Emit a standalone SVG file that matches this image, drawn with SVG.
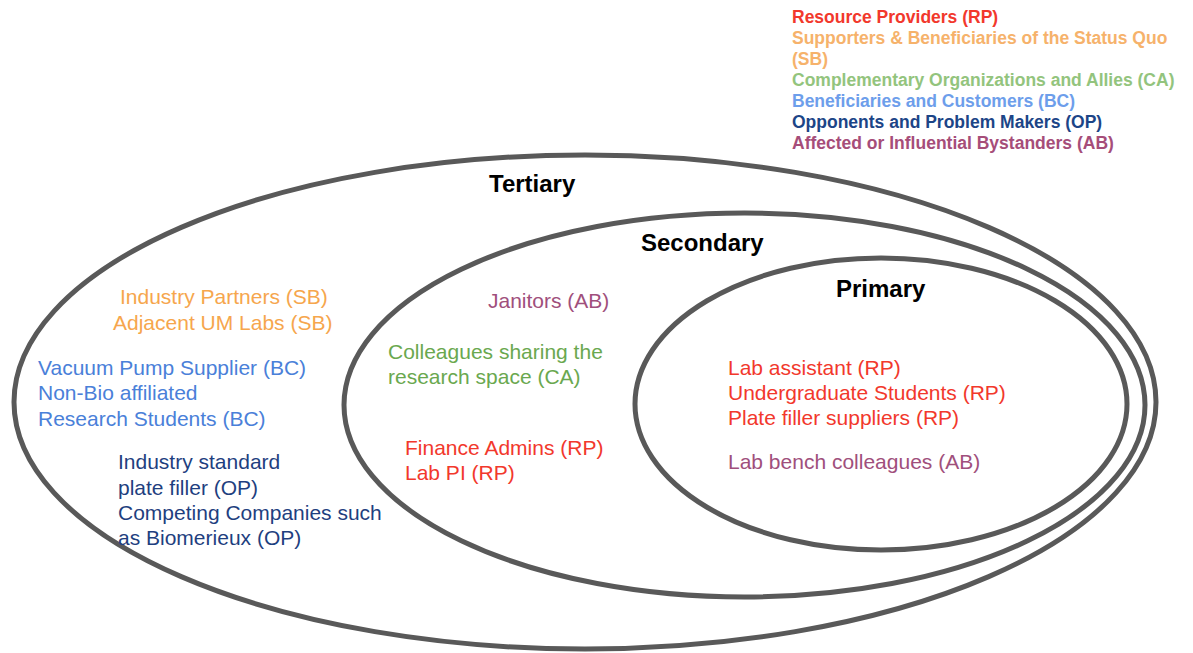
<svg xmlns="http://www.w3.org/2000/svg" width="1193" height="653" viewBox="0 0 1193 653">
<style>
.ring{fill:none;stroke:#595959;stroke-width:5}
.lg{font-family:"Liberation Sans",Arial,sans-serif;font-size:17.5px;font-weight:bold}
.h{font-family:"Liberation Sans",Arial,sans-serif;font-size:24px;font-weight:bold;fill:#000}
.t{font-family:"Liberation Sans",Arial,sans-serif;font-size:21px}
.rp{fill:#f2382c}
.sb{fill:#f6a64d}
.ca{fill:#6aa84f}
.bc{fill:#4a80d9}
.op{fill:#1f3f7f}
.ab{fill:#a04f7c}
.lsb{fill:#f6b26b}
.lca{fill:#93c47d}
.lbc{fill:#6d9eeb}
.lop{fill:#1c4587}
.lab{fill:#a64d79}
</style>
<rect width="1193" height="653" fill="#fff"/>
<g id="legend">
<text class="lg rp" x="792" y="23">Resource Providers (RP)</text>
<text class="lg lsb" x="792" y="44">Supporters &amp; Beneficiaries of the Status Quo</text>
<text class="lg lsb" x="792" y="65">(SB)</text>
<text class="lg lca" x="792" y="86">Complementary Organizations and Allies (CA)</text>
<text class="lg lbc" x="792" y="107">Beneficiaries and Customers (BC)</text>
<text class="lg lop" x="792" y="128">Opponents and Problem Makers (OP)</text>
<text class="lg lab" x="792" y="149">Affected or Influential Bystanders (AB)</text>
</g>
<g id="tertiary">
<ellipse class="ring" cx="585" cy="402" rx="571" ry="247"/>
<text class="h" x="489" y="192">Tertiary</text>
<text class="t sb" x="120" y="304">Industry Partners (SB)</text>
<text class="t sb" x="113" y="330">Adjacent UM Labs (SB)</text>
<text class="t bc" x="38" y="375">Vacuum Pump Supplier (BC)</text>
<text class="t bc" x="38" y="400">Non-Bio affiliated</text>
<text class="t bc" x="38" y="426">Research Students (BC)</text>
<text class="t op" x="118" y="469">Industry standard</text>
<text class="t op" x="118" y="495">plate filler (OP)</text>
<text class="t op" x="118" y="520">Competing Companies such</text>
<text class="t op" x="118" y="545">as Biomerieux (OP)</text>
</g>
<g id="secondary">
<ellipse class="ring" cx="744.5" cy="405" rx="400.5" ry="192"/>
<text class="h" x="641" y="251">Secondary</text>
<text class="t ab" x="488" y="308">Janitors (AB)</text>
<text class="t ca" x="388" y="359">Colleagues sharing the</text>
<text class="t ca" x="388" y="384">research space (CA)</text>
<text class="t rp" x="405" y="455">Finance Admins (RP)</text>
<text class="t rp" x="405" y="480">Lab PI (RP)</text>
</g>
<g id="primary">
<ellipse class="ring" cx="881" cy="404" rx="246" ry="146"/>
<text class="h" x="836" y="297">Primary</text>
<text class="t rp" x="728" y="375">Lab assistant (RP)</text>
<text class="t rp" x="728" y="400">Undergraduate Students (RP)</text>
<text class="t rp" x="728" y="425">Plate filler suppliers (RP)</text>
<text class="t ab" x="728" y="469">Lab bench colleagues (AB)</text>
</g>
<g id="connectors"/>
</svg>
